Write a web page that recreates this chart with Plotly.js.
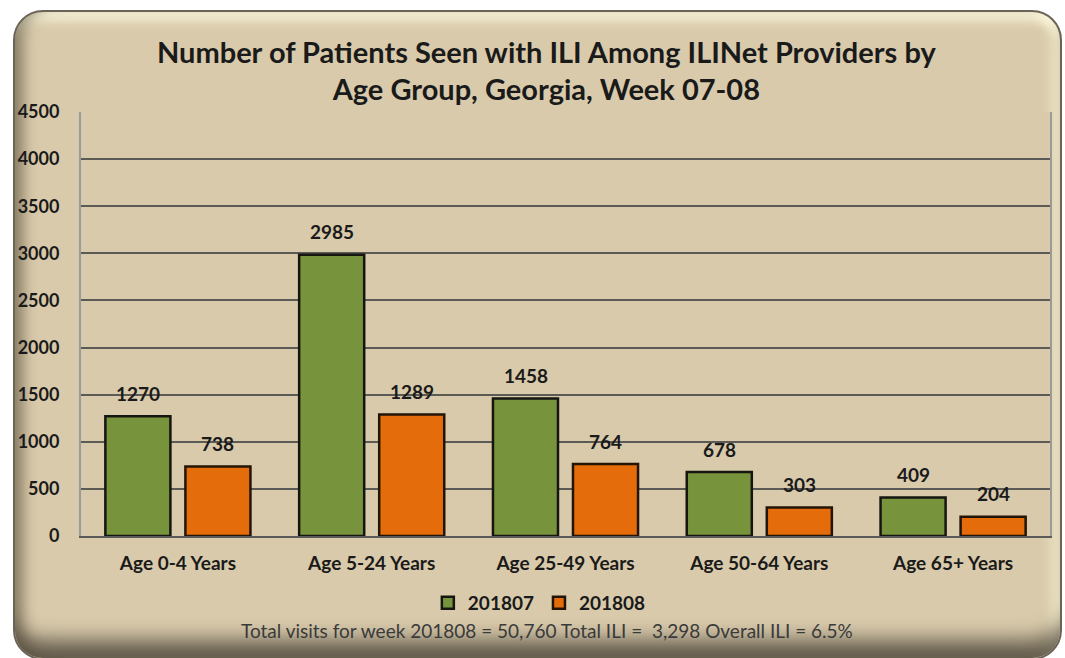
<!DOCTYPE html>
<html>
<head>
<meta charset="utf-8">
<script src="https://cdn.plot.ly/plotly-3.0.1.min.js"></script>
<style>
  html, body { margin: 0; padding: 0; background: #ffffff; }
  #wrap { position: relative; width: 1065px; height: 658px; overflow: hidden; }
  #frame {
    position: absolute; left: 13px; top: 10px; width: 1049px; height: 650px;
    border-radius: 30px;
    background: #D9CAAB;
    border: 2px solid #6b6456;
    box-sizing: border-box;
    box-shadow: inset 14px 0 14px -6px rgba(90,80,60,0.55),
                inset 0 -26px 20px -8px rgba(60,55,45,0.75),
                inset 0 14px 12px -6px rgba(255,252,225,0.9),
                inset -14px 0 12px -6px rgba(255,250,215,0.9);
  }
  #chart { position: absolute; left: 0; top: 0; width: 1065px; height: 658px; }
</style>
</head>
<body>
<div id="wrap">
  <div id="frame"></div>
  <div id="chart"></div>
</div>
<script>
const categories = ["Age 0-4 Years", "Age 5-24 Years", "Age 25-49 Years", "Age 50-64 Years", "Age 65+ Years"];
const seriesNames = ["201807", "201808"];
const values201807 = [1270, 2985, 1458, 678, 409];
const values201808 = [738, 1289, 764, 303, 204];
const titleText = "Number of Patients Seen with ILI Among ILINet Providers by<br>Age Group, Georgia, Week 07-08";
const footnote = "Total visits for week 201808 = 50,760 Total ILI =  3,298 Overall ILI = 6.5%";

const FONT = "Lato, 'Open Sans', 'DejaVu Sans', sans-serif";
const green = "#77933C";
const orange = "#E46C0A";

const traces = [
  {
    type: "bar", name: seriesNames[0], x: categories, y: values201807,
    marker: { color: green, line: { color: "#161610", width: 2.5 } },
    hoverinfo: "skip"
  },
  {
    type: "bar", name: seriesNames[1], x: categories, y: values201808,
    marker: { color: orange, line: { color: "#221406", width: 2.5 } },
    hoverinfo: "skip"
  }
];

const annotations = [];
categories.forEach((c, i) => {
  annotations.push({ x: c, y: values201807[i], xref: "x", yref: "y", text: String(values201807[i]),
    showarrow: false, xshift: -40, yshift: 23, font: { family: FONT, size: 19, color: "#1a1a1a", weight: "bold" } });
  annotations.push({ x: c, y: values201808[i], xref: "x", yref: "y", text: String(values201808[i]),
    showarrow: false, xshift: 40, yshift: 23, font: { family: FONT, size: 19, color: "#1a1a1a", weight: "bold" } });
});
annotations.push({
  x: 0.481, y: -0.222, xref: "paper", yref: "paper", xanchor: "center", yanchor: "middle",
  text: footnote, showarrow: false, font: { family: FONT, size: 19, color: "#3a3a3a" }
});

const layout = {
  width: 1065, height: 658,
  paper_bgcolor: "rgba(0,0,0,0)",
  plot_bgcolor: "#D9CAAB",
  margin: { l: 81, r: 15, t: 112, b: 122 },
  title: {
    text: titleText, x: 0.513, xanchor: "center", y: 0.905, yanchor: "middle",
    font: { family: FONT, size: 29, color: "#1a1a1a", weight: "bold" }
  },
  barmode: "group",
  bargap: 0.174,
  bargroupgap: 0.1875,
  showlegend: true,
  legend: {
    orientation: "h", x: 0.473, xanchor: "center", y: -0.158, yanchor: "middle",
    font: { family: FONT, size: 19, color: "#1a1a1a", weight: "bold" },
    bgcolor: "rgba(0,0,0,0)", itemwidth: 30, traceorder: "normal"
  },
  xaxis: {
    type: "category",
    showgrid: false,
    showline: true, linecolor: "#5a5a5a", linewidth: 2,
    ticks: "outside", ticklen: 9, tickcolor: "rgba(0,0,0,0)",
    tickfont: { family: FONT, size: 19, color: "#1a1a1a", weight: "bold" },
    fixedrange: true
  },
  yaxis: {
    range: [0, 4500], dtick: 500, tick0: 0,
    showgrid: true, gridcolor: "#5c5a55", gridwidth: 2,
    showline: true, mirror: true, linecolor: "#9a9a9a", linewidth: 2,
    zeroline: false,
    ticks: "outside", ticklen: 16, tickcolor: "rgba(0,0,0,0)",
    tickfont: { family: FONT, size: 18, color: "#1a1a1a", weight: "bold" },
    fixedrange: true
  },
  annotations: annotations
};

Plotly.newPlot("chart", traces, layout, { displayModeBar: false, staticPlot: true });
</script>
</body>
</html>
